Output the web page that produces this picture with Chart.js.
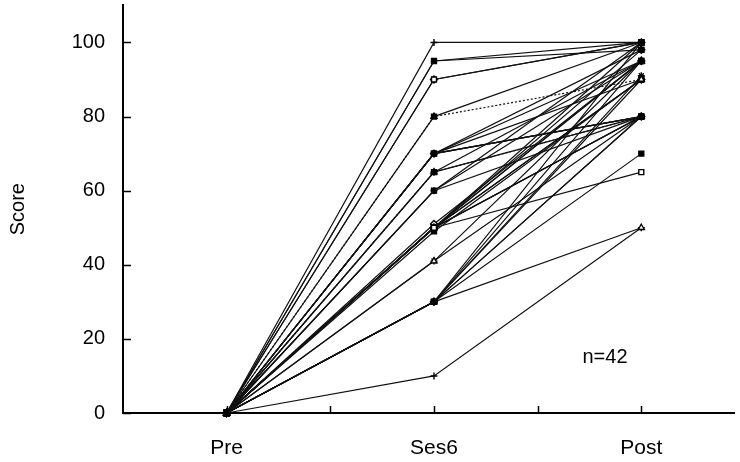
<!DOCTYPE html>
<html lang="en">
<head>
    <meta charset="UTF-8">
    <title>Score Pre / Ses6 / Post</title>
    <script src="https://cdn.jsdelivr.net/npm/chart.js"></script>
    <style>
        html, body { margin: 0; padding: 0; background: #fff; overflow: hidden; }
        #chart { display: block; }
    </style>
</head>
<body>
    <canvas id="chart" width="740" height="462"></canvas>
    <script>
        // time points and where they sit on the x axis
        const categories = ['Pre', 'Ses6', 'Post'];
        const categoryPos = [1, 3, 5];
        const yTicks = [0, 20, 40, 60, 80, 100];

        // one entry per subject (n=42)
        const preScores  = [0, 0, 0, 0, 0, 0, 0, 0, 0, 0, 0, 0, 0, 0, 0, 0, 0, 0, 0, 0, 0,
                            0, 0, 0, 0, 0, 0, 0, 0, 0, 0, 0, 0, 0, 0, 0, 0, 0, 0, 0, 0, 0];
        const ses6Scores = [100, 95, 95, 90, 90, 80, 80, 70, 70, 70, 70, 70, 70, 65, 65, 65, 60, 60, 60, 50, 50,
                            50, 50, 50, 50, 50, 50, 50, 51, 49, 41, 41, 30, 30, 30, 30, 30, 30, 30, 30, 10, 50];
        const postScores = [100, 100, 98, 100, 100, 100, 90, 80, 80, 80, 95, 98, 90, 80, 80, 95, 80, 95, 100, 100, 98,
                            95, 95, 90, 90, 80, 80, 65, 95, 90, 95, 80, 100, 95, 90, 80, 80, 70, 50, 91, 50, 80];
        const sampleSize = 'n=42';

        const markers = ['cross', 'crossRot', 'rect', 'rect', 'rectRot', 'rect', 'triangle', 'star'];
        const hollow = [false, false, false, true, true, false, true, false];

        const datasets = ses6Scores.map(function (s, i) {
            const m = i % markers.length;
            return {
                data: [
                    { x: categoryPos[0], y: preScores[i] },
                    { x: categoryPos[1], y: s },
                    { x: categoryPos[2], y: postScores[i] }
                ],
                borderColor: '#111',
                borderWidth: 1.2,
                borderDash: (i === 6 || i === 13) ? [2, 2] : [],
                pointStyle: markers[m],
                pointRadius: 3.5,
                pointBorderWidth: 1.4,
                pointBorderColor: '#000',
                pointBackgroundColor: hollow[m] ? '#fff' : '#000',
                tension: 0,
                clip: false
            };
        });

        // short tick marks pointing into the plot, plus the n= note
        const innerTicks = {
            id: 'innerTicks',
            afterDraw(chart) {
                const ctx = chart.ctx;
                const x = chart.scales.x, y = chart.scales.y;
                ctx.save();
                ctx.strokeStyle = '#000';
                ctx.lineWidth = 1.5;
                ctx.beginPath();
                yTicks.forEach(function (v) {
                    const py = Math.round(y.getPixelForValue(v)) + 0.5;
                    ctx.moveTo(x.left, py);
                    ctx.lineTo(x.left + 8, py);
                });
                [1, 2, 3, 4, 5].forEach(function (v) {
                    const px = Math.round(x.getPixelForValue(v)) + 0.5;
                    ctx.moveTo(px, y.bottom);
                    ctx.lineTo(px, y.bottom - 7);
                });
                ctx.stroke();
                ctx.fillStyle = '#000';
                ctx.font = '20px "Liberation Sans", Arial, sans-serif';
                ctx.textAlign = 'center';
                ctx.textBaseline = 'middle';
                ctx.fillText(sampleSize, x.getPixelForValue(4.65), y.getPixelForValue(15));
                ctx.restore();
            }
        };

        new Chart(document.getElementById('chart'), {
            type: 'line',
            data: { datasets: datasets },
            options: {
                responsive: false,
                animation: false,
                layout: { padding: { top: 5, right: 0, bottom: 0, left: 0 } },
                plugins: { legend: { display: false }, tooltip: { enabled: false } },
                scales: {
                    x: {
                        type: 'linear',
                        min: 0,
                        max: 5.9,
                        afterFit: function (s) {
                            s.height = 49;
                            s.paddingLeft = 0;
                            s.paddingRight = 0;
                        },
                        afterBuildTicks: function (s) {
                            s.ticks = categoryPos.map(function (v) { return { value: v }; });
                        },
                        grid: { display: false, drawTicks: false },
                        border: { display: true, color: '#000', width: 2 },
                        ticks: {
                            padding: 23,
                            color: '#000',
                            font: { family: '"Liberation Sans", Arial, sans-serif', size: 21 },
                            callback: function (v) {
                                const k = categoryPos.indexOf(v);
                                return k >= 0 ? categories[k] : '';
                            }
                        }
                    },
                    y: {
                        min: 0,
                        max: 110,
                        afterFit: function (s) {
                            s.width = 123;
                            s.paddingTop = 0;
                            s.paddingBottom = 0;
                        },
                        afterBuildTicks: function (s) {
                            s.ticks = yTicks.map(function (v) { return { value: v }; });
                        },
                        grid: { display: false, drawTicks: false },
                        border: { display: true, color: '#000', width: 2 },
                        title: {
                            display: true,
                            text: 'Score',
                            color: '#000',
                            padding: { top: 6, bottom: 4 },
                            font: { family: '"Liberation Sans", Arial, sans-serif', size: 20 }
                        },
                        ticks: {
                            padding: 18,
                            color: '#000',
                            font: { family: '"Liberation Sans", Arial, sans-serif', size: 20 }
                        }
                    }
                }
            },
            plugins: [innerTicks]
        });
    </script>
</body>
</html>
